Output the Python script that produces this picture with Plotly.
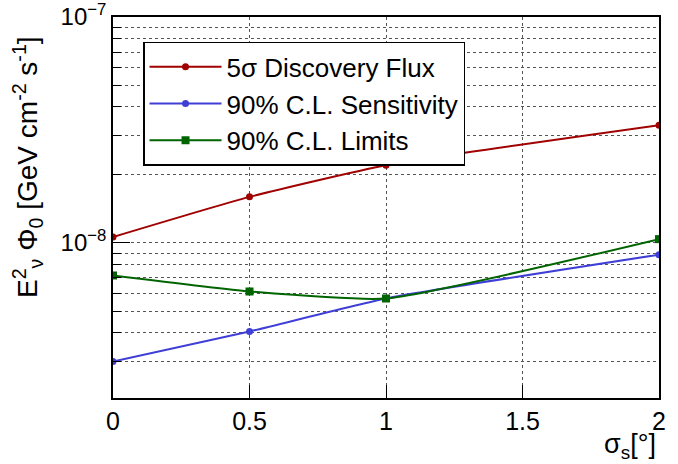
import plotly.graph_objects as go

sigma_s = [0, 0.5, 1, 2]
discovery = [1.063e-8, 1.60e-8, 2.21e-8, 3.32e-8]
sensitivity = [2.99e-9, 4.06e-9, 5.68e-9, 8.88e-9]
limits = [7.18e-9, 6.10e-9, 5.68e-9, 1.04e-8]

names = ["5σ Discovery Flux", "90% C.L. Sensitivity", "90% C.L. Limits"]
colors = ["#a00000", "#3f3fd6", "#006400"]
symbols = ["circle", "circle", "square"]
series = [discovery, sensitivity, limits]

y_tickvals = [1e-8, 1e-7]
y_ticktext = ["10<sup>−8</sup>", "10<sup>−7</sup>"]

FONT = "Liberation Sans, Arial, Helvetica, sans-serif"

fig = go.Figure()
for name, col, sym, ys in zip(names, colors, symbols, series):
    fig.add_trace(go.Scatter(
        x=sigma_s, y=ys, name=name, mode="lines+markers",
        line=dict(color=col, width=2, shape="spline", smoothing=0.5),
        marker=dict(color=col, symbol=sym, size=7 if sym == "circle" else 8),
    ))

fig.update_layout(
    width=678, height=464,
    margin=dict(l=113, r=19, t=17, b=66, autoexpand=False),
    paper_bgcolor="white", plot_bgcolor="white",
    font=dict(family=FONT, color="black", size=25),
    showlegend=True,
    legend=dict(
        x=0.055, y=0.935, xanchor="left", yanchor="top",
        bgcolor="white", bordercolor="black", borderwidth=1.5,
        font=dict(size=26, family=FONT), tracegroupgap=0,
        itemwidth=72,
    ),
)
fig.update_xaxes(
    range=[0, 2], dtick=0.5, tick0=0, automargin=False,
    ticks="inside", ticklen=13, tickcolor="black", tickwidth=1,
    showline=True, linecolor="black", linewidth=1.5, mirror=True,
    showgrid=True, gridcolor="#555555", griddash="dot", gridwidth=1,
    zeroline=False, tickfont=dict(size=25),
)
fig.update_yaxes(
    type="log", range=[-8.686, -7], automargin=False,
    tickmode="array", tickvals=y_tickvals, ticktext=y_ticktext,
    ticklabeloverflow="allow",
    ticks="inside", ticklen=17, tickcolor="black", tickwidth=1,
    showline=True, linecolor="black", linewidth=1.5, mirror=True,
    showgrid=True, gridcolor="#555555", griddash="dot", gridwidth=1,
    minor=dict(dtick="D1", ticks="inside", ticklen=8, tickcolor="black",
               showgrid=True, gridcolor="#555555", griddash="dot", gridwidth=1),
    zeroline=False, tickfont=dict(size=24),
)

fig.add_annotation(
    text="E<sup>2</sup><sub>ν</sub> Φ<sub>0</sub> [GeV cm<sup>-2</sup> s<sup>-1</sup>]",
    xref="paper", yref="paper", x=-0.156, y=0.955, xanchor="center", yanchor="top",
    textangle=-90, showarrow=False, font=dict(size=28, family=FONT),
)
fig.add_annotation(
    text="σ<sub>s</sub>[°]",
    xref="paper", yref="paper", x=0.998, y=-0.175, xanchor="right", yanchor="bottom",
    showarrow=False, font=dict(size=27, family=FONT),
)

fig.write_html("out.html")
